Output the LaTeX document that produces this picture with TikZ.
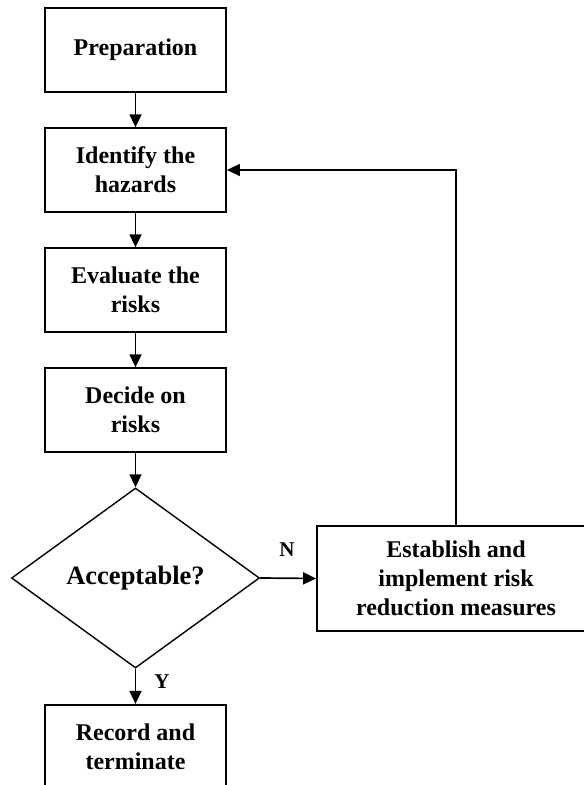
\documentclass[tikz,border=0pt]{standalone}
\usepackage{fontspec}
\setmainfont{Liberation Serif}
\usepackage{tikz}
\usetikzlibrary{arrows.meta, shapes.geometric, positioning}

\begin{document}
\begin{tikzpicture}[x=1pt, y=-1pt, >={Triangle[length=13pt, width=12pt]},
  font=\bfseries\fontsize{24}{28.8}\selectfont,
  stepbox/.style={draw, line width=1.8pt, align=center, inner sep=0pt,
    minimum width=181pt, minimum height=83.5pt},
  flow/.style={->, line width=1.7pt}]

\clip (0,0) rectangle (584,785);

%-- main column, centre x = 135.5
\node[stepbox] (prep)   at (135.5,  50)  {Preparation};
\node[stepbox] (ident)  at (135.5, 170)  {Identify the\\hazards};
\node[stepbox] (eval)   at (135.5, 290)  {Evaluate the\\risks};
\node[stepbox] (decide) at (135.5, 410)  {Decide on\\risks};

\node[draw, diamond, line width=1.4pt, shape aspect=1.38, inner sep=0pt,
  minimum width=248pt, minimum height=180pt,
  font=\bfseries\fontsize{26.5}{30}\selectfont]
  (accept) at (135.5, 578) {Acceptable?};

\node[stepbox] (record) at (135.5, 746.5) {Record and\\terminate};

%-- side box (runs off the right edge)
\node[stepbox, minimum width=278pt, minimum height=105pt]
  (measure) at (456, 578.5) {Establish and\\implement risk\\reduction measures};

\foreach \s/\e in {prep/ident,ident/eval,eval/decide,decide/accept,accept/record}
  \draw[flow] (\s.south)--(\e.north);

\draw[flow] (accept.east)--(measure.west);

%-- loop back to hazards
\draw[->, line width=1.2pt] (measure.north) |- (ident.east);

\node[font=\bfseries\fontsize{21}{24}\selectfont] at (287, 550) {N};
\node[font=\bfseries\fontsize{21}{24}\selectfont] at (162, 682) {Y};

\end{tikzpicture}
\end{document}
